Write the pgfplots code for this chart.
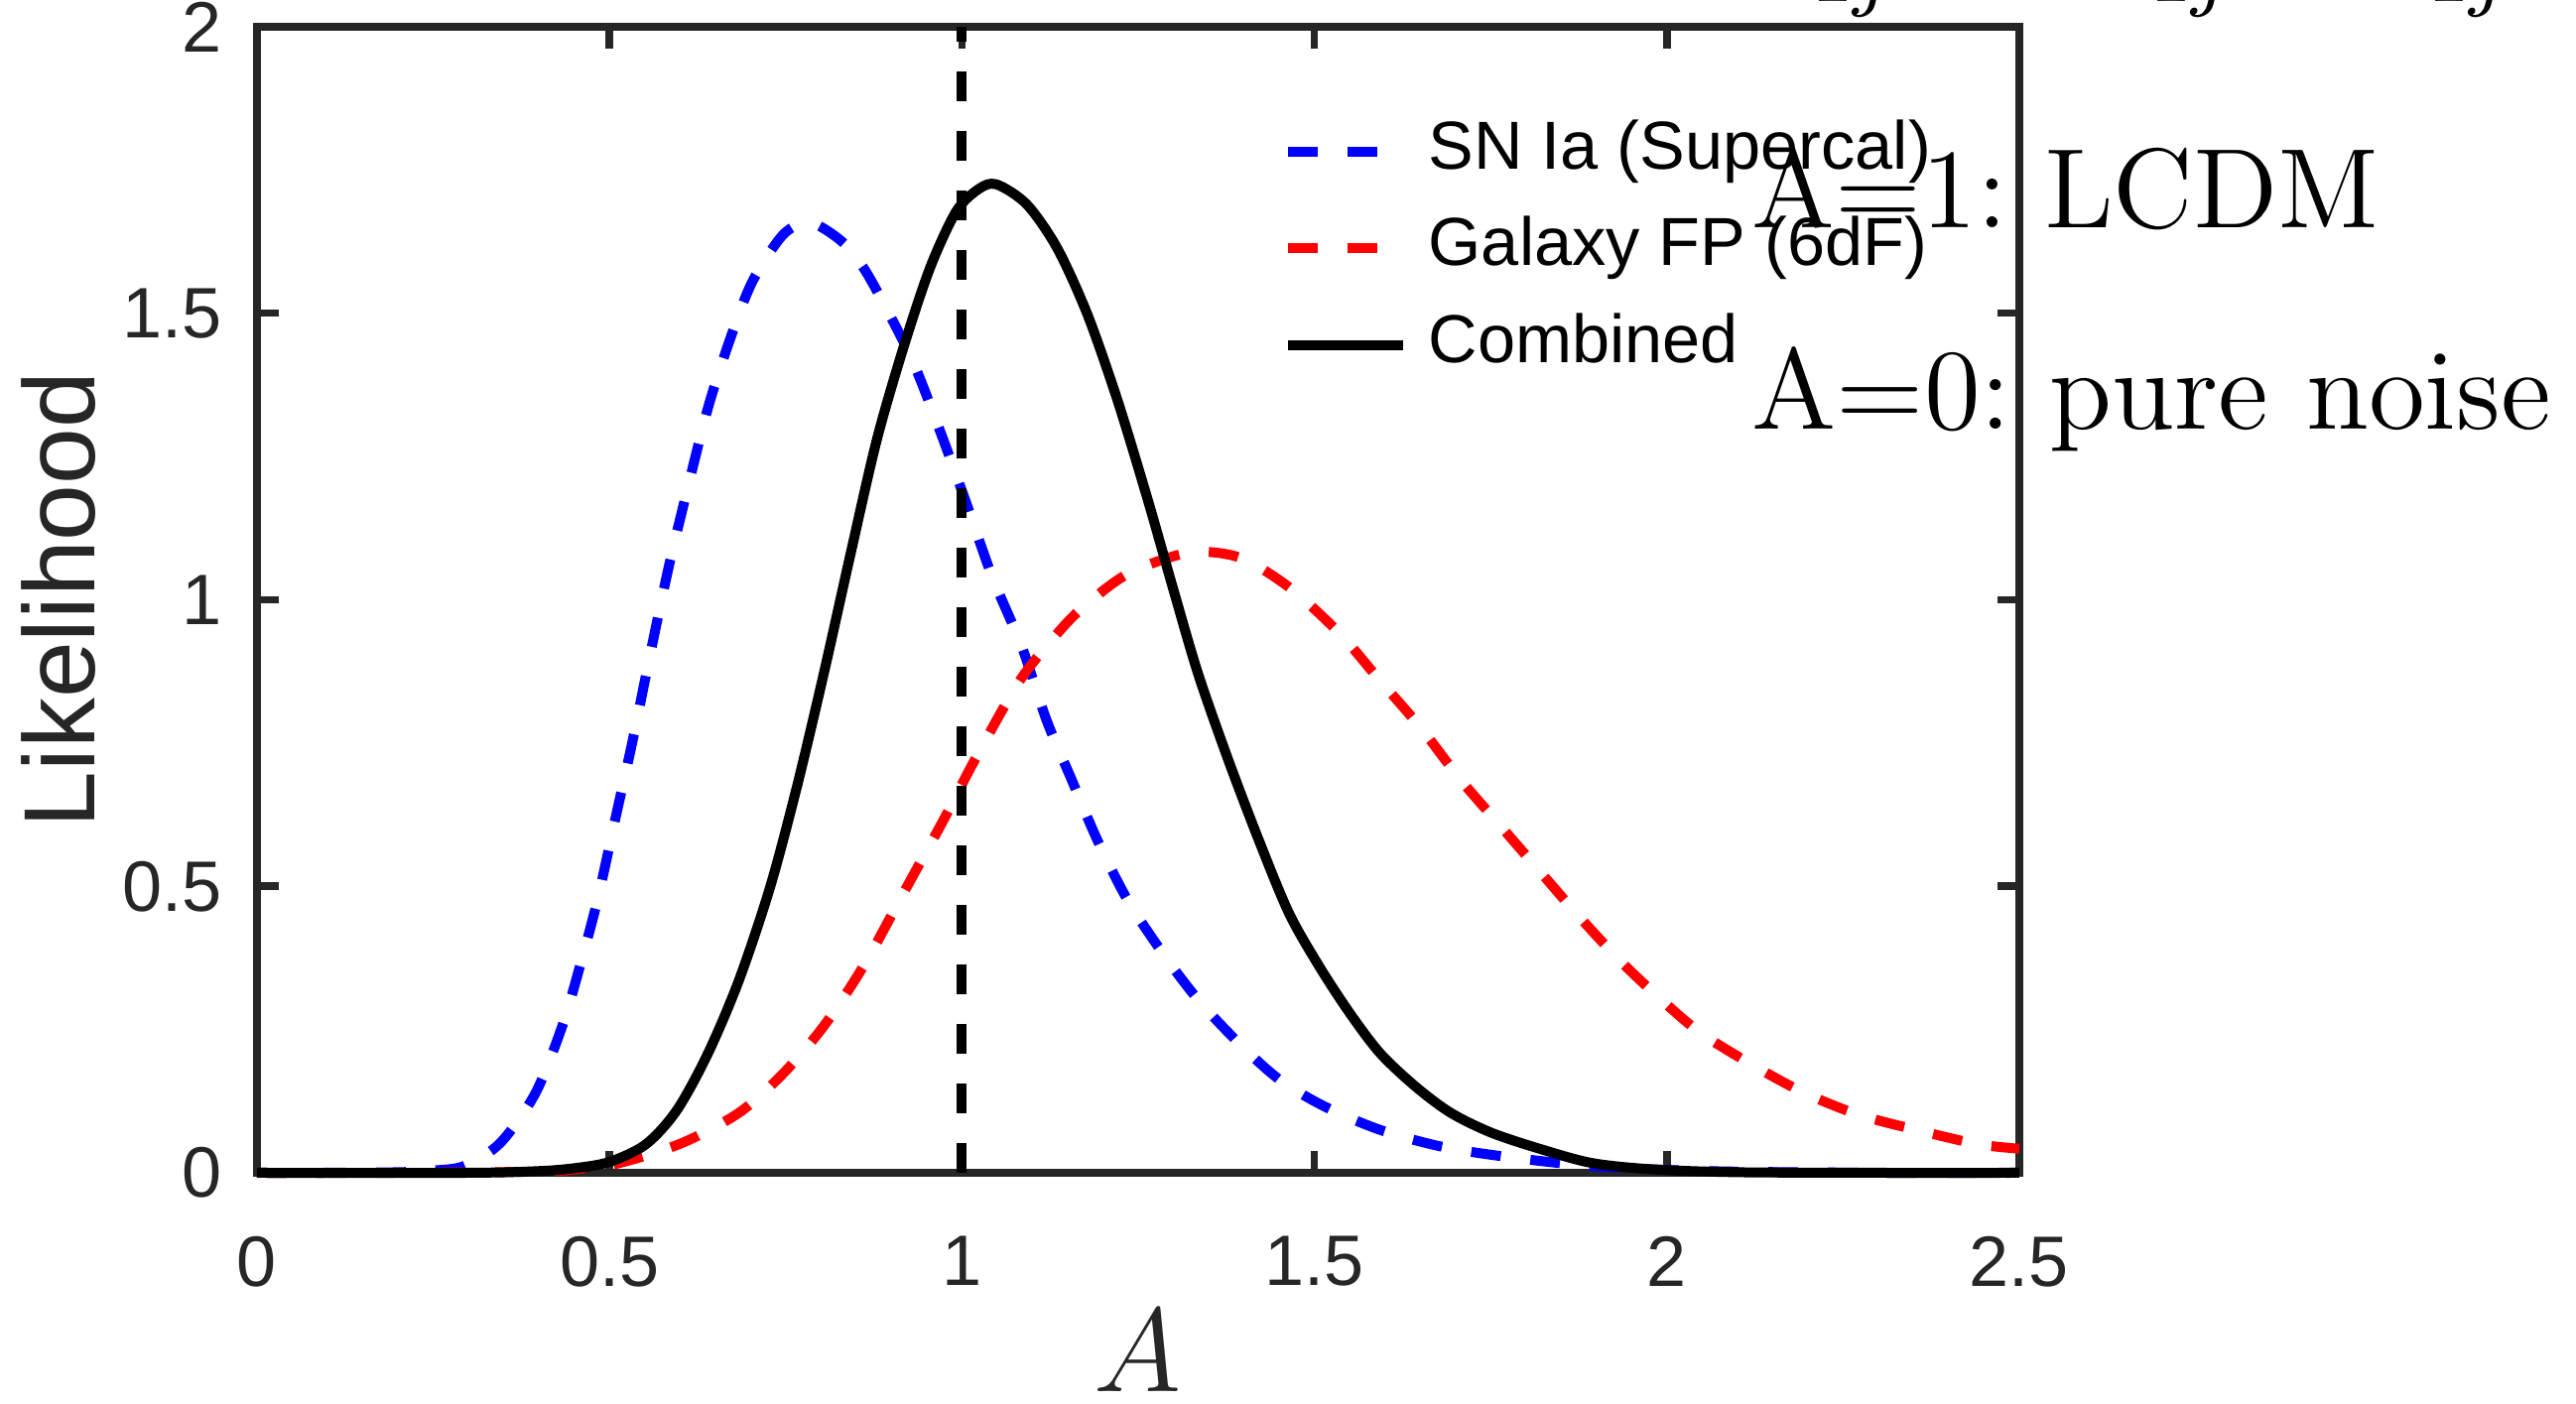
\documentclass[border=0pt]{standalone}
\usepackage{fontspec}
\setsansfont{Liberation Sans}
\usepackage{pgfplots}
\pgfplotsset{compat=1.18}
\definecolor{axgray}{rgb}{0.15,0.15,0.15}

\begin{document}
\frenchspacing
\begin{tikzpicture}
\begin{axis}[
  scale only axis, width=177.6pt, height=115.5pt,
  xmin=0, xmax=2.5, ymin=0, ymax=2,
  xtick={0,0.5,1,1.5,2,2.5}, ytick={0,0.5,1,1.5,2},
  tick align=inside, xtick pos=both, ytick pos=both,
  major tick length=2.2pt,
  axis line style={axgray, line width=0.75pt},
  every tick/.style={axgray, line width=0.75pt},
  tick label style={font=\sffamily\fontsize{7.2}{8}\selectfont, text=axgray},
  /pgf/number format/assume math mode=true,
  xticklabel style={yshift=-2.9pt},
  xlabel={$A$}, ylabel={Likelihood},
  every axis x label/.style={at={(axis description cs:0.5,-0.1913)}, anchor=base,
    font=\fontsize{11.5}{13}\selectfont, text=axgray},
  every axis y label/.style={at={(axis description cs:-0.0922,0.5)}, rotate=90, anchor=base,
    font=\sffamily\fontsize{10.2}{12}\selectfont, text=axgray},
  clip=false,
  legend image code/.code={\draw[#1] (0pt,0pt) -- (11.6pt,0pt);},
  legend cell align=left,
  legend style={at={(axis cs:1.455,1.840)}, anchor=north west, draw=none, fill=none,
    inner sep=0pt, outer sep=0pt, row sep=3.05pt,
    font=\sffamily\fontsize{6.85}{8}\selectfont,
    nodes={inner sep=0pt, text height=5.1pt, text depth=1.6pt},
    /tikz/every odd column/.append style={column sep=2.1pt}},
]
% SN Ia (Supercal)
\addplot[blue, line width=1pt, dash pattern=on 3pt off 3pt, smooth] coordinates {
(0,0) (0.1,0) (0.2,0.001) (0.25,0.004) (0.294,0.012) (0.345,0.052) (0.395,0.139)
(0.433,0.256) (0.458,0.36) (0.483,0.476) (0.508,0.616) (0.533,0.755) (0.558,0.906)
(0.584,1.057) (0.609,1.185) (0.640,1.336) (0.672,1.458) (0.703,1.556) (0.747,1.638)
(0.785,1.658) (0.829,1.626) (0.860,1.580) (0.892,1.510) (0.930,1.417) (0.967,1.301)
(1.005,1.173) (1.043,1.040) (1.085,0.918) (1.120,0.790) (1.156,0.685) (1.192,0.581)
(1.235,0.476) (1.285,0.383) (1.335,0.302) (1.393,0.226) (1.450,0.163) (1.514,0.116)
(1.593,0.075) (1.679,0.046) (1.765,0.029) (1.872,0.014) (1.980,0.006) (2.1,0.002)
(2.3,0) (2.5,0)};
\addlegendentry{SN Ia (Supercal)}
% Galaxy FP (6dF)
\addplot[red, line width=1pt, dash pattern=on 3pt off 3pt, smooth] coordinates {
(0,0) (0.2,0) (0.4,0.002) (0.45,0.006) (0.514,0.017) (0.603,0.052) (0.684,0.105)
(0.747,0.174) (0.804,0.256) (0.860,0.360) (0.917,0.488) (0.974,0.616) (1.018,0.720)
(1.080,0.855) (1.131,0.935) (1.170,0.985) (1.235,1.045) (1.321,1.082) (1.393,1.074)
(1.464,1.022) (1.536,0.941) (1.593,0.859) (1.650,0.778) (1.708,0.685) (1.765,0.604)
(1.822,0.523) (1.880,0.441) (1.937,0.366) (1.994,0.300) (2.048,0.244) (2.119,0.190)
(2.194,0.140) (2.273,0.101) (2.357,0.074) (2.441,0.050) (2.5,0.042)};
\addlegendentry{Galaxy FP (6dF)}
% Combined
\addplot[black, line width=1pt, smooth] coordinates {
(0,0) (0.3,0) (0.4,0.003) (0.45,0.008) (0.5,0.019) (0.552,0.050) (0.596,0.110)
(0.640,0.209) (0.684,0.337) (0.728,0.499) (0.766,0.674) (0.804,0.871) (0.842,1.080)
(0.879,1.278) (0.917,1.440) (0.955,1.580) (0.992,1.678) (1.024,1.717) (1.049,1.725)
(1.092,1.690) (1.135,1.614) (1.178,1.498) (1.221,1.347) (1.264,1.173) (1.299,1.022)
(1.335,0.871) (1.378,0.720) (1.421,0.581) (1.464,0.453) (1.507,0.360) (1.550,0.279)
(1.593,0.209) (1.643,0.151) (1.693,0.105) (1.751,0.070) (1.822,0.041) (1.894,0.017)
(1.980,0.006) (2.1,0.001) (2.3,0) (2.5,0)};
\addlegendentry{Combined}
% A = 1 reference line
\addplot[black, line width=1pt, dash pattern=on 3pt off 3pt, forget plot] coordinates {(1,0) (1,2)};

\node[anchor=base west, inner sep=0pt, font=\fontsize{11.4}{13}\selectfont] at (axis cs:2.118,1.650) {A=1: LCDM};
\node[anchor=base west, inner sep=0pt, font=\fontsize{11.6}{13}\selectfont] at (axis cs:2.118,1.298) {A=0: pure noise};
% clipped title fragments at the top edge
\node[anchor=base west, inner sep=0pt, font=\fontsize{11.4}{13}\selectfont] at (axis cs:2.202,2.072) {$_{1j}$};
\node[anchor=base west, inner sep=0pt, font=\fontsize{11.4}{13}\selectfont] at (axis cs:2.682,2.072) {$_{1j}$};
\node[anchor=base west, inner sep=0pt, font=\fontsize{11.4}{13}\selectfont] at (axis cs:3.076,2.072) {$_{1j}$};
\end{axis}
\pgfresetboundingbox
\path[use as bounding box] ([shift={(-25.9pt,-23.3pt)}]current axis.south west)
  rectangle ([shift={(56.1pt,2.7pt)}]current axis.north east);
\end{tikzpicture}
\end{document}
